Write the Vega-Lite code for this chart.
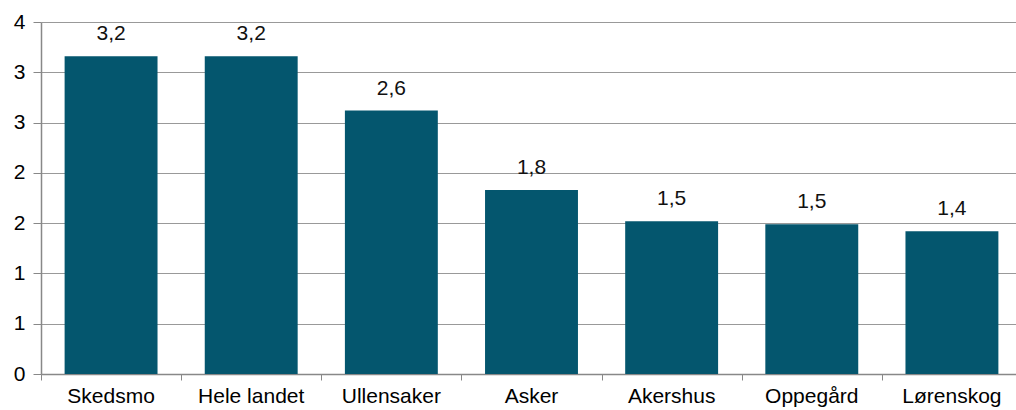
{
  "$schema": "https://vega.github.io/schema/vega-lite/v6.json",
  "autosize": "none",
  "padding": {"left": 41, "top": 22, "right": 0, "bottom": 36},
  "width": 975,
  "height": 352,
  "background": "white",
  "config": {
    "locale": {"number": {"decimal": ",", "thousands": " ", "grouping": [3], "currency": ["", " kr"]}},
    "view": {"stroke": null},
    "font": "Liberation Sans"
  },
  "data": {"values": [
    {"kommune": "Skedsmo", "verdi": 3.16},
    {"kommune": "Hele landet", "verdi": 3.16},
    {"kommune": "Ullensaker", "verdi": 2.62},
    {"kommune": "Asker", "verdi": 1.83},
    {"kommune": "Akershus", "verdi": 1.52},
    {"kommune": "Oppegård", "verdi": 1.49},
    {"kommune": "Lørenskog", "verdi": 1.42}
  ]},
  "encoding": {
    "x": {
      "field": "kommune", "type": "nominal", "sort": null,
      "scale": {"range": [0, 981], "paddingInner": 0.337, "paddingOuter": 0.1685},
      "axis": {
        "title": null, "labelAngle": 0, "labelFontSize": 21, "labelColor": "#000000",
        "labelFont": "Liberation Sans",
        "bandPosition": 0, "tickOffset": -23.6, "labelOffset": 23.1,
        "tickSize": 6, "tickColor": "#888888", "domainColor": "#888888", "domainWidth": 1.5,
        "labelPadding": 5, "grid": false
      }
    },
    "y": {
      "field": "verdi", "type": "quantitative",
      "scale": {"domain": [0, 3.5], "nice": false},
      "axis": {
        "title": null, "values": [0, 0.5, 1, 1.5, 2, 2.5, 3, 3.5], "format": ".0f",
        "labelFontSize": 21, "labelColor": "#000000", "labelFont": "Liberation Sans",
        "tickSize": 8, "labelPadding": 8, "tickColor": "#888888",
        "domainColor": "#888888", "domainWidth": 1.5,
        "gridColor": "#999999", "gridWidth": 1.2
      }
    }
  },
  "layer": [
    {"mark": {"type": "bar", "color": "#04566E"}},
    {
      "mark": {"type": "text", "fontSize": 21, "dy": -16, "baseline": "alphabetic", "color": "#111111", "font": "Liberation Sans"},
      "encoding": {"text": {"field": "verdi", "type": "quantitative", "format": ".1f"}}
    }
  ]
}
